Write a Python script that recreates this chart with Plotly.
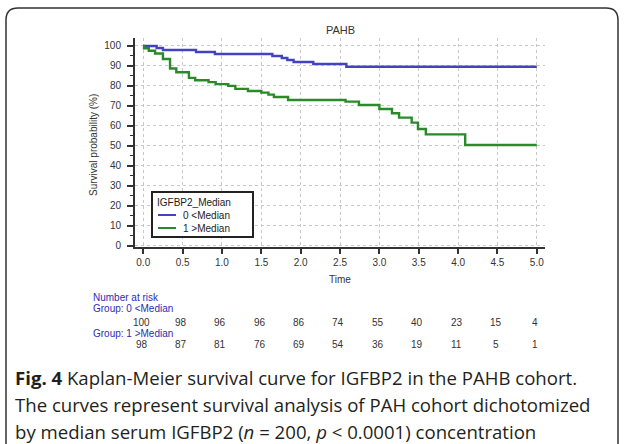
import plotly.graph_objects as go

# Kaplan-Meier step data (time in years, survival %)
low_time = [0, 0.17, 0.25, 0.67, 0.91, 1.64, 1.76, 1.83, 1.91, 2.16, 2.58, 5.0]
low_surv = [100, 99, 98, 97, 96, 95, 94, 93, 92, 91, 89.6, 89.6]

high_time = [0, 0.01, 0.07, 0.15, 0.25, 0.34, 0.42, 0.58, 0.66, 0.83, 0.92, 1.08, 1.17,
             1.33, 1.50, 1.59, 1.66, 1.84, 2.57, 2.74, 3.00, 3.16, 3.25, 3.41, 3.49,
             3.59, 4.09, 5.0]
high_surv = [100, 98.9, 97.6, 96.2, 93.5, 88.7, 86.8, 84.0, 82.8, 81.9, 80.9, 80.0, 78.5,
             77.4, 76.6, 75.6, 74.4, 72.9, 72.1, 70.4, 68.4, 66.3, 64.1, 61.6, 58.4,
             55.7, 50.4, 50.4]

risk_times = [0, 0.5, 1.0, 1.5, 2.0, 2.5, 3.0, 3.5, 4.0, 4.5, 5.0]
risk_low = [100, 98, 96, 96, 86, 74, 55, 40, 23, 15, 4]
risk_high = [98, 87, 81, 76, 69, 54, 36, 19, 11, 5, 1]

group_names = ["0 <Median", "1 >Median"]
group_colors = ["#4343c2", "#2a8a2a"]

W, H = 624, 444
L, R, T, B = 135, 545, 38, 247


def px(x):
    return (x - L) / (R - L)


def py(y):
    return (B - y) / (B - T)


AX_FONT = "Arial, Liberation Sans, sans-serif"
CAP_FONT = "Open Sans, Noto Sans, sans-serif"


def label(text, x, y, size=10, color="#333", xanchor="center", xref="paper", **kw):
    return dict(text=text, x=x, y=py(y), xref=xref, yref="paper", xanchor=xanchor, yanchor="middle",
                showarrow=False, font=dict(family=kw.pop("family", AX_FONT), size=size, color=color), **kw)


fig = go.Figure()
for t, s, c in [(low_time, low_surv, group_colors[0]), (high_time, high_surv, group_colors[1])]:
    fig.add_trace(go.Scatter(x=t, y=s, mode="lines", line=dict(color=c, width=2.4, shape="hv"),
                             showlegend=False, hoverinfo="skip"))

ann = []
shapes = []

# title and axis titles
ann.append(label("PAHB", px(340), 30, size=11))
ann.append(label("Time", px(340), 279))
ann.append(label("Survival probability (%)", px(93), 145, textangle=-90))

# legend box
shapes.append(dict(type="rect", xref="paper", yref="paper", x0=px(152), x1=px(253), y0=py(237), y1=py(192),
                   line=dict(color="#222", width=2), fillcolor="white", layer="above"))
ann.append(label("IGFBP2_Median", px(155), 202, color="#222", xanchor="left"))
for i, (name, col) in enumerate(zip(group_names, group_colors)):
    yy = 215 + i * 13
    shapes.append(dict(type="line", xref="paper", yref="paper", x0=px(158), x1=px(176), y0=py(yy), y1=py(yy),
                       line=dict(color=col, width=2), layer="above"))
    ann.append(label(name, px(181), yy, color="#222", xanchor="left"))

# number-at-risk table
risk_blue = "#2d2db0"
ann.append(label("Number at risk", px(91), 297, color=risk_blue, xanchor="left"))
ann.append(label("Group: 0 <Median", px(91), 308, color=risk_blue, xanchor="left"))
ann.append(label("Group: 1 >Median", px(91), 333, color=risk_blue, xanchor="left"))
for row_y, vals in [(322.5, risk_low), (344, risk_high)]:
    for t, v in zip(risk_times, vals):
        ann.append(label(str(v), t - 0.02, row_y, xref="x"))

# caption
caption = [
    "<b>Fig. 4</b> Kaplan-Meier survival curve for IGFBP2 in the PAHB cohort.",
    "The curves represent survival analysis of PAH cohort dichotomized",
    "by median serum IGFBP2 (<i>n</i> = 200, <i>p</i> &lt; 0.0001) concentration",
]
for i, line in enumerate(caption):
    ann.append(label(line, px(13), 377 + i * 27, size=18.6, color="#231f20", xanchor="left", family=CAP_FONT))

# rounded panel border
x0, x1, y0, y1, r = 6, 618, 8, 470, 12
path = (f"M {px(x0)} {py(y1)} L {px(x0)} {py(y0 + r)} Q {px(x0)} {py(y0)} {px(x0 + r)} {py(y0)} "
        f"L {px(x1 - r)} {py(y0)} Q {px(x1)} {py(y0)} {px(x1)} {py(y0 + r)} L {px(x1)} {py(y1)}")
shapes.append(dict(type="path", path=path, xref="paper", yref="paper", line=dict(color="#333", width=1.5)))

fig.update_layout(
    width=W, height=H,
    margin=dict(l=L, r=W - R, t=T, b=H - B, autoexpand=False),
    paper_bgcolor="white", plot_bgcolor="white",
    showlegend=False,
    annotations=ann, shapes=shapes,
    xaxis=dict(range=[-0.105, 5.104], tickvals=risk_times, tickformat=".1f",
               showgrid=True, gridcolor="#c8c8c8", griddash="dot", gridwidth=1,
               showline=True, linecolor="#333", linewidth=2, ticks="outside", ticklen=5, tickwidth=2,
               tickcolor="#333", zeroline=False, ticklabelstandoff=0,
               tickfont=dict(family=AX_FONT, size=10, color="#333")),
    yaxis=dict(range=[-0.75, 104], tickvals=list(range(0, 101, 10)),
               showgrid=True, gridcolor="#c8c8c8", griddash="dot", gridwidth=1,
               showline=True, linecolor="#333", linewidth=2, ticks="outside", ticklen=6, tickwidth=2,
               tickcolor="#333", zeroline=False, ticklabelstandoff=4,
               minor=dict(tickvals=list(range(5, 100, 10)), ticks="outside", ticklen=3, tickcolor="#333",
                          tickwidth=1, showgrid=False),
               tickfont=dict(family=AX_FONT, size=10, color="#333")),
)

fig.write_html("out.html")
